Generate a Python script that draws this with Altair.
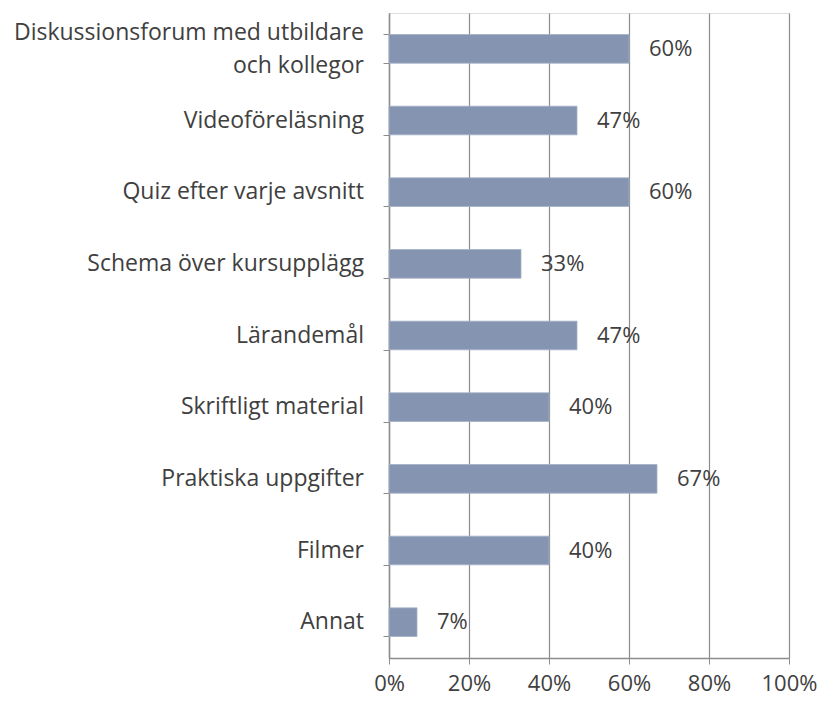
import altair as alt
import pandas as pd

categories = [
    "Diskussionsforum med utbildare|och kollegor",
    "Videoföreläsning",
    "Quiz efter varje avsnitt",
    "Schema över kursupplägg",
    "Lärandemål",
    "Skriftligt material",
    "Praktiska uppgifter",
    "Filmer",
    "Annat",
]
values = [0.60, 0.47, 0.60, 0.33, 0.47, 0.40, 0.67, 0.40, 0.07]
labels = ["60%", "47%", "60%", "33%", "47%", "40%", "67%", "40%", "7%"]

df = pd.DataFrame({"cat": categories, "val": values, "lab": labels})

FONT = "Open Sans"
TXT = "#404040"
GRID = "#8c8c8c"
FS = 23

y = alt.Y(
    "cat:N",
    sort=categories,
    title=None,
    scale=alt.Scale(paddingInner=0.6, paddingOuter=0.3),
    axis=alt.Axis(
        labels=False,
        tickBand="extent",
        tickSize=6,
        tickColor=GRID,
        domainColor=GRID,
        domainWidth=1.5,
        grid=False,
    ),
)

x = alt.X(
    "val:Q",
    title=None,
    scale=alt.Scale(domain=[0, 1]),
    axis=alt.Axis(
        format="%",
        values=[0, 0.2, 0.4, 0.6, 0.8, 1.0],
        labelFont=FONT,
        labelFontSize=FS - 1,
        labelColor=TXT,
        labelPadding=9,
        labelFlush=False,
        tickSize=6,
        tickColor=GRID,
        domainColor=GRID,
        domainWidth=1.5,
        grid=True,
        gridColor=GRID,
        gridWidth=1.2,
    ),
)

base = alt.Chart(df)

bars = base.mark_bar(color="#8595B1", stroke="#A4B0C6", strokeWidth=0.8).encode(x=x, y=y)

text = base.mark_text(
    align="left", baseline="middle", dx=20, font=FONT, fontSize=FS - 1, color=TXT
).encode(x="val:Q", y=alt.Y("cat:N", sort=categories), text="lab:N")

cat_single = base.transform_filter("indexof(datum.cat, '|') < 0").mark_text(
    align="right", baseline="middle", font=FONT, fontSize=FS, color=TXT
).encode(x=alt.value(-25), y=alt.Y("cat:N", sort=categories), text="cat:N")

cat_multi = base.transform_filter("indexof(datum.cat, '|') >= 0").mark_text(
    align="right", baseline="middle", font=FONT, fontSize=FS, color=TXT,
    lineBreak="|", lineHeight=33, dy=-16
).encode(x=alt.value(-25), y=alt.Y("cat:N", sort=categories), text="cat:N")

chart = (
    alt.layer(bars, text, cat_single, cat_multi)
    .properties(
        width=400,
        height=645,
        autosize=alt.AutoSizeParams(type="none"),
        padding={"left": 381, "top": 5, "right": 28, "bottom": 38},
    )
    .configure_view(stroke=None)
    .configure(background="white")
)

chart.save("out.html", embed_options={"renderer": "svg", "actions": False})
